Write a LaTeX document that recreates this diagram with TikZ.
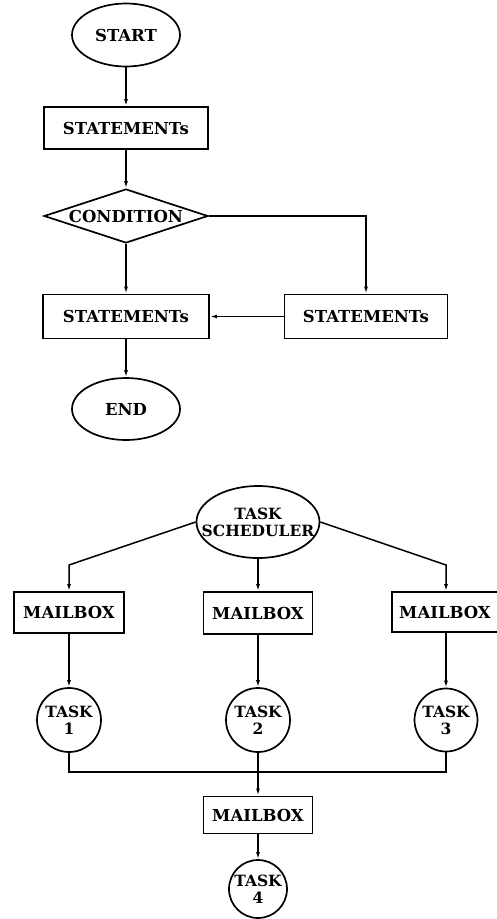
\documentclass[tikz,border=0pt]{standalone}
\usepackage{fontspec}
\setmainfont{DejaVu Serif}
\usetikzlibrary{shapes.geometric,arrows.meta}
\tikzset{
  every node/.style={font=\bfseries\fontsize{16.5}{17}\selectfont},
  boxnode/.style={draw, line width=1.9pt, rectangle, inner sep=0pt},
  ovalnode/.style={draw, line width=1.7pt, ellipse, inner sep=0pt},
  decnode/.style={draw, line width=1.7pt, diamond, inner sep=0pt, aspect=3},
  tasknode/.style={draw, line width=1.7pt, circle, inner sep=0pt, align=center, font=\bfseries\fontsize{15.5}{17}\selectfont},
  conn/.style={line width=1.5pt},
  arr/.style={conn, -{Latex[length=7pt,width=4pt]}},
}
\begin{document}
\begin{tikzpicture}[x=1pt,y=-1pt]
\useasboundingbox (0,0) rectangle (497,919);
% upper flowchart
\node[ovalnode, minimum width=108, minimum height=63] (start) at (126,35) {START};
\node[boxnode, minimum width=164, minimum height=42] (s1) at (126,128) {STATEMENTs};
\node[decnode, minimum width=164, minimum height=54] (cond) at (126,216) {CONDITION};
\node[boxnode, minimum width=166, minimum height=44] (s2) at (126,316.5) {STATEMENTs};
\node[boxnode, minimum width=163, minimum height=44] (s3) at (366,316.5) {STATEMENTs};
\node[ovalnode, minimum width=108, minimum height=62] (end) at (126,409) {END};
\draw[arr] (start) -- (s1);
\draw[arr] (s1) -- (cond);
\draw[arr] (cond) -- (s2);
\draw[arr] (cond.east) -| (s3.north);
\draw[arr] (s3.west) -- (s2.east);
\draw[arr] (s2) -- (end);
% lower diagram
\node[ovalnode, minimum width=123, minimum height=72,
  label={[align=center, font=\bfseries\fontsize{15.5}{17}\selectfont]center:TASK\\SCHEDULER}] (ts) at (258,522) {};
\node[boxnode, minimum width=110, minimum height=41] (m1) at (69,612.5) {MAILBOX};
\node[boxnode, minimum width=109, minimum height=42] (m2) at (258,613) {MAILBOX};
\node[boxnode, minimum width=106, minimum height=40] (m3) at (445,612) {MAILBOX};
\node[tasknode, minimum size=64] (t1) at (69,720) {TASK\\1};
\node[tasknode, minimum size=64] (t2) at (258,720) {TASK\\2};
\node[tasknode, minimum size=63] (t3) at (446,720) {TASK\\3};
\node[boxnode, minimum width=109, minimum height=37] (m4) at (258,815) {MAILBOX};
\node[tasknode, minimum size=58] (t4) at (258,889) {TASK\\4};
\coordinate (kl) at (69,565);
\coordinate (kr) at (446,565);
\coordinate (bus) at (258,772);
\draw[arr] (ts.west) -- (kl) -- (m1.north);
\draw[arr] (ts.east) -- (kr) -- (kr |- m3.north);
\draw[arr] (ts.south) -- (m2.north);
\draw[arr] (m1) -- (t1);
\draw[arr] (m2) -- (t2);
\draw[arr] (t3.north |- m3.south) -- (t3.north);
\draw[conn] (t1.south) |- (bus);
\draw[conn] (t3.south) |- (bus);
\draw[arr] (t2.south) -- (m4.north);
\draw[arr] (m4) -- (t4);
\end{tikzpicture}
\end{document}
